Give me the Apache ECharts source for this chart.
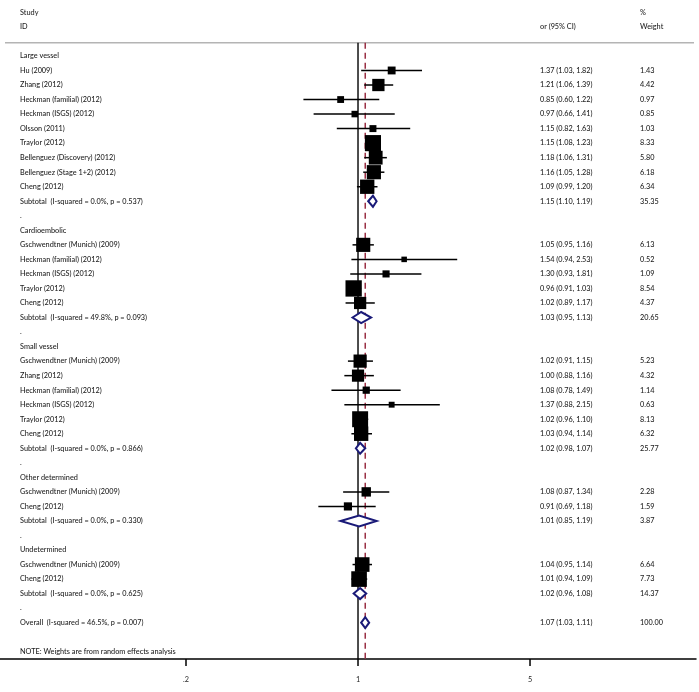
<!DOCTYPE html>
<html><head><meta charset="utf-8">
<script src="https://cdn.jsdelivr.net/npm/echarts@6/dist/echarts.min.js"></script>
<style>html,body{margin:0;padding:0;background:#fff}#c{width:699px;height:692px}</style>
</head><body><div id="c"></div>
<script>
const rowLabels = [
 "Large vessel","Hu (2009)","Zhang (2012)","Heckman (familial) (2012)","Heckman (ISGS) (2012)","Olsson (2011)","Traylor (2012)","Bellenguez (Discovery) (2012)","Bellenguez (Stage 1+2) (2012)","Cheng (2012)","Subtotal  (I-squared = 0.0%, p = 0.537)",".",
 "Cardioembolic","Gschwendtner (Munich) (2009)","Heckman (familial) (2012)","Heckman (ISGS) (2012)","Traylor (2012)","Cheng (2012)","Subtotal  (I-squared = 49.8%, p = 0.093)",".",
 "Small vessel","Gschwendtner (Munich) (2009)","Zhang (2012)","Heckman (familial) (2012)","Heckman (ISGS) (2012)","Traylor (2012)","Cheng (2012)","Subtotal  (I-squared = 0.0%, p = 0.866)",".",
 "Other determined","Gschwendtner (Munich) (2009)","Cheng (2012)","Subtotal  (I-squared = 0.0%, p = 0.330)",".",
 "Undetermined","Gschwendtner (Munich) (2009)","Cheng (2012)","Subtotal  (I-squared = 0.0%, p = 0.625)",".",
 "Overall  (I-squared = 46.5%, p = 0.007)","","NOTE: Weights are from random effects analysis"];
const rowKinds = [
 "h","s","s","s","s","s","s","s","s","s","sub","dot",
 "h","s","s","s","s","s","sub","dot",
 "h","s","s","s","s","s","s","sub","dot",
 "h","s","s","sub","dot",
 "h","s","s","sub","dot",
 "overall","blank","note"];
const orValues = [
 null,1.37,1.21,0.85,0.97,1.15,1.15,1.18,1.16,1.09,1.15,null,
 null,1.05,1.54,1.30,0.96,1.02,1.03,null,
 null,1.02,1.00,1.08,1.37,1.02,1.03,1.02,null,
 null,1.08,0.91,1.01,null,
 null,1.04,1.01,1.02,null,
 1.07,null,null];
const ciLow = [
 null,1.03,1.06,0.60,0.66,0.82,1.08,1.06,1.05,0.99,1.10,null,
 null,0.95,0.94,0.93,0.91,0.89,0.95,null,
 null,0.91,0.88,0.78,0.88,0.96,0.94,0.98,null,
 null,0.87,0.69,0.85,null,
 null,0.95,0.94,0.96,null,
 1.03,null,null];
const ciHigh = [
 null,1.82,1.39,1.22,1.41,1.63,1.23,1.31,1.28,1.20,1.19,null,
 null,1.16,2.53,1.81,1.03,1.17,1.13,null,
 null,1.15,1.16,1.49,2.15,1.10,1.14,1.07,null,
 null,1.34,1.18,1.19,null,
 null,1.14,1.09,1.08,null,
 1.11,null,null];
const weights = [
 null,1.43,4.42,0.97,0.85,1.03,8.33,5.80,6.18,6.34,35.35,null,
 null,6.13,0.52,1.09,8.54,4.37,20.65,null,
 null,5.23,4.32,1.14,0.63,8.13,6.32,25.77,null,
 null,2.28,1.59,3.87,null,
 null,6.64,7.73,14.37,null,
 100.00,null,null];
const xTicks = [0.2, 1, 5];
const xTickLabels = [".2", "1", "5"];
const headerStudy = ["Study", "ID"];
const headerCI = "or (95% CI)";
const headerWeight = ["%", "Weight"];

const FONT = 'Lato';
const FS = 7.3;
const TXT = '#1e1e1e';
const Y_MIN = -3.85, Y_MAX = 41.5;
const overallIdx = rowKinds.indexOf('overall');
const overallOR = orValues[overallIdx];

const studyData = [], diamondData = [], textData = [];
rowKinds.forEach((k, i) => {
  if (k === 's') studyData.push([orValues[i], i, ciLow[i], ciHigh[i], weights[i]]);
  if (k === 'sub' || k === 'overall') diamondData.push([orValues[i], i, ciLow[i], ciHigh[i], weights[i]]);
  textData.push([1, i]);
});

function txt(x, y, s, align) {
  return {type:'text', style:{x:x, y:y, text:s, fill:TXT, font: '500 ' + FS + 'px ' + FONT, textAlign: align || 'left', textVerticalAlign:'middle'}};
}

const chart = echarts.init(document.getElementById('c'), null, {renderer:'canvas'});
chart.setOption({
  animation:false,
  backgroundColor:'#fff',
  grid:{left:0, right:3, top:0, bottom:33, containLabel:false},
  xAxis:{type:'log', min:0.03509, max:23.63, axisLine:{show:true, onZero:false, lineStyle:{color:'#000', width:1.5}},
    axisTick:{show:false}, axisLabel:{show:false}, splitLine:{show:false}},
  yAxis:{type:'value', inverse:true, min:Y_MIN, max:Y_MAX, show:false, splitLine:{show:false}},
  series:[
    { // reference lines & separator
      type:'custom', z:1, clip:false, data:[[overallOR, 0]],
      renderItem:function(params, api){
        const cs = params.coordSys;
        const ySep = api.coord([1, -0.9])[1];
        const x1 = api.coord([1, 0])[0];
        const xo = api.coord([api.value(0), 0])[0];
        const yb = cs.y + cs.height;
        return {type:'group', children:[
          {type:'line', shape:{x1:cs.x+5, y1:ySep, x2:cs.x+cs.width-2, y2:ySep}, style:{stroke:'#b4b4b4', lineWidth:1.5}},
          {type:'line', shape:{x1:x1, y1:ySep, x2:x1, y2:yb}, style:{stroke:'#000', lineWidth:1.4}},
          {type:'line', shape:{x1:xo, y1:ySep, x2:xo, y2:yb}, style:{stroke:'#9a3045', lineWidth:1.5, lineDash:[6,4]}}
        ]};
      }
    },
    { // ticks and tick labels
      type:'custom', z:2, clip:false, data:xTicks.map((v,i)=>[v, Y_MAX, i]),
      renderItem:function(params, api){
        const p = api.coord([api.value(0), api.value(1)]);
        const lab = xTickLabels[api.value(2)];
        return {type:'group', children:[
          {type:'line', shape:{x1:p[0], y1:p[1], x2:p[0], y2:p[1]+7}, style:{stroke:'#000', lineWidth:1.5}},
          {type:'text', style:{x:p[0], y:p[1]+21, text:lab, fill:TXT, font: FS + 'px ' + FONT, textAlign:'center', textVerticalAlign:'middle'}}
        ]};
      }
    },
    { // study CIs and weighted squares
      type:'custom', z:3, data:studyData, encode:{x:0, y:1},
      renderItem:function(params, api){
        const r = api.value(1);
        const pO = api.coord([api.value(0), r]);
        const pL = api.coord([api.value(2), r]);
        const pH = api.coord([api.value(3), r]);
        const s = 2 + 4.9*Math.sqrt(api.value(4));
        return {type:'group', children:[
          {type:'line', shape:{x1:pL[0], y1:pL[1], x2:pH[0], y2:pH[1]}, style:{stroke:'#000', lineWidth:1.5}},
          {type:'rect', shape:{x:pO[0]-s/2, y:pO[1]-s/2, width:s, height:s}, style:{fill:'#000'}}
        ]};
      }
    },
    { // pooled diamonds
      type:'custom', z:4, data:diamondData, encode:{x:0, y:1},
      renderItem:function(params, api){
        const r = api.value(1);
        const pO = api.coord([api.value(0), r]);
        const pL = api.coord([api.value(2), r]);
        const pH = api.coord([api.value(3), r]);
        const h = 5.5;
        return {type:'polygon', shape:{points:[[pL[0],pO[1]],[pO[0],pO[1]-h],[pH[0],pO[1]],[pO[0],pO[1]+h]]},
          style:{fill:'#fff', stroke:'#1a1a78', lineWidth:2}};
      }
    },
    { // text columns
      type:'custom', z:5, clip:false, data:textData, encode:{x:0, y:1},
      renderItem:function(params, api){
        const cs = params.coordSys;
        const i = api.value(1);
        const y = api.coord([1, i])[1];
        const ch = [txt(cs.x+20, y, rowLabels[i])];
        if (orValues[i] != null) {
          ch.push(txt(cs.x+540, y, orValues[i].toFixed(2)+' ('+ciLow[i].toFixed(2)+', '+ciHigh[i].toFixed(2)+')'));
          ch.push(txt(cs.x+640, y, weights[i].toFixed(2)));
        }
        if (i === 0) {
          const y0 = api.coord([1, -3])[1], y1 = api.coord([1, -2])[1];
          ch.push(txt(cs.x+20, y0, headerStudy[0]));
          ch.push(txt(cs.x+20, y1, headerStudy[1]));
          ch.push(txt(cs.x+540, y1, headerCI));
          ch.push(txt(cs.x+640, y0, headerWeight[0]));
          ch.push(txt(cs.x+640, y1, headerWeight[1]));
        }
        return {type:'group', children:ch};
      }
    }
  ]
});
</script></body></html>
